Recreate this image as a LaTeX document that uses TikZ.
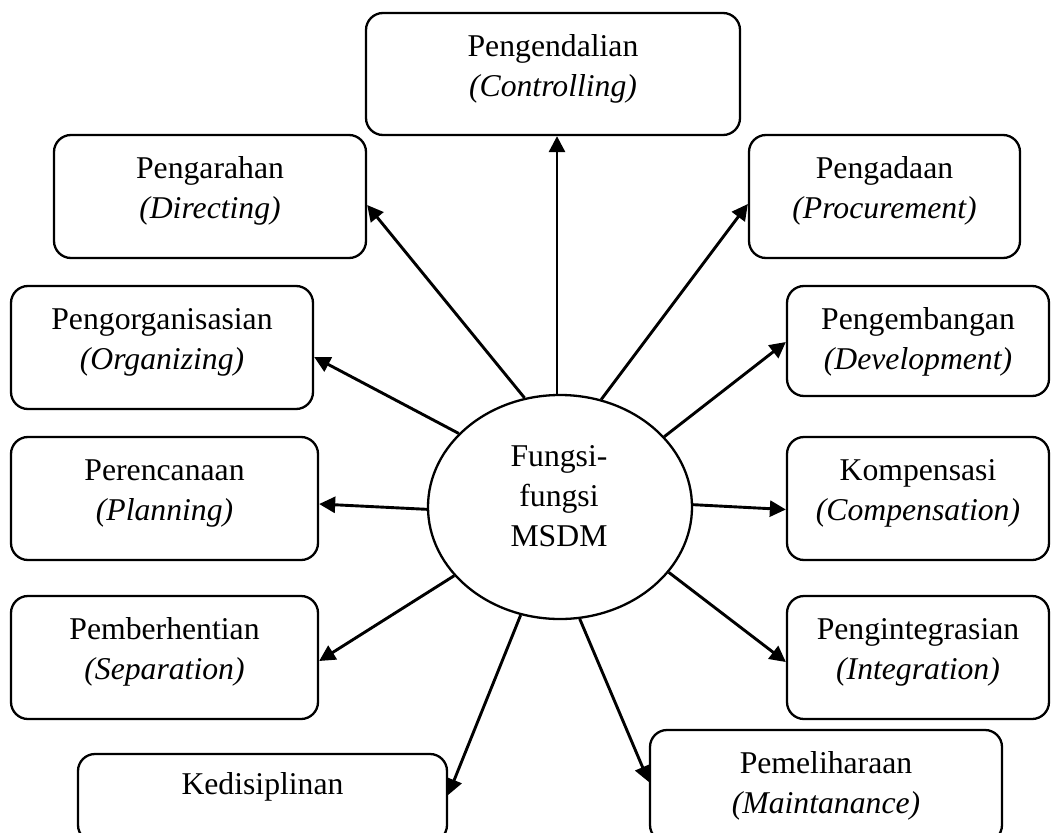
\documentclass[tikz,border=0pt]{standalone}
\usepackage{fontspec}
\setmainfont{Liberation Serif}
\usetikzlibrary{shapes.geometric,arrows.meta}
\tikzset{
  fbox/.style={draw, line width=2.3pt, rounded corners=17pt, inner sep=0pt, fill=white},
  ftext/.style={anchor=north, inner sep=0pt, align=center, font=\fontsize{31.7}{40}\selectfont},
  centre/.style={draw, ellipse, line width=2.3pt, inner sep=0pt, minimum width=264pt, minimum height=224pt},
  arr/.style={line width=2.9pt, -{Triangle[length=16pt,width=16pt]}}
}
\newcommand{\fst}{\rule{0pt}{26pt}}
\begin{document}
\begin{tikzpicture}[x=1pt,y=-1pt]
\useasboundingbox (0,0) rectangle (1054,832);
\fill[white] (0,0) rectangle (1054,832);
\clip (0,0) rectangle (1054,832);

% boxes
\node[fbox, minimum width=374pt, minimum height=122pt] (ctrl) at (553,74) {};
\node[fbox, minimum width=312pt, minimum height=123pt] (dir) at (210,196.5) {};
\node[fbox, minimum width=271pt, minimum height=123pt] (proc) at (884.5,196.5) {};
\node[fbox, minimum width=302pt, minimum height=123pt] (org) at (162,347.5) {};
\node[fbox, minimum width=262pt, minimum height=110pt] (dev) at (918,341) {};
\node[fbox, minimum width=307pt, minimum height=123pt] (plan) at (164.5,498.5) {};
\node[fbox, minimum width=262pt, minimum height=123pt] (comp) at (918,498.5) {};
\node[fbox, minimum width=307pt, minimum height=123pt] (sep) at (164.5,657.5) {};
\node[fbox, minimum width=262pt, minimum height=123pt] (integ) at (918,657.5) {};
\node[fbox, minimum width=369pt, minimum height=88pt] (disc) at (262.5,798) {};
\node[fbox, minimum width=352pt, minimum height=112pt] (maint) at (826,786) {};

% texts
\node[ftext] (ctrl-t) at ([yshift=-18pt]ctrl.north) {\fst Pengendalian\\\textit{(Controlling)}};
\node[ftext] (dir-t) at ([yshift=-18pt]dir.north) {\fst Pengarahan\\\textit{(Directing)}};
\node[ftext] (proc-t) at ([yshift=-18pt]proc.north) {\fst Pengadaan\\\textit{(Procurement)}};
\node[ftext] (org-t) at ([yshift=-18pt]org.north) {\fst Pengorganisasian\\\textit{(Organizing)}};
\node[ftext] (dev-t) at ([yshift=-18pt]dev.north) {\fst Pengembangan\\\textit{(Development)}};
\node[ftext] (plan-t) at ([yshift=-18pt]plan.north) {\fst Perencanaan\\\textit{(Planning)}};
\node[ftext] (comp-t) at ([yshift=-18pt]comp.north) {\fst Kompensasi\\\textit{(Compensation)}};
\node[ftext] (sep-t) at ([yshift=-18pt]sep.north) {\fst Pemberhentian\\\textit{(Separation)}};
\node[ftext] (integ-t) at ([yshift=-18pt]integ.north) {\fst Pengintegrasian\\\textit{(Integration)}};
\node[ftext] (disc-t) at ([yshift=-15pt]disc.north) {\fst Kedisiplinan};
\node[ftext] (maint-t) at ([yshift=-18pt]maint.north) {\fst Pemeliharaan\\\textit{(Maintanance)}};

% centre
\node[centre] (c) at (560,507) {};
\node[ftext] (c-t) at (559,440) {\fst Fungsi-\\fungsi\\MSDM};

% arrows
\draw[arr] ([xshift=-3pt]c.north) -- ([xshift=4pt]ctrl.south);
\draw[arr] (c.108) -- ([yshift=-8.5pt]dir.east);
\draw[arr] (c.69.5) -- ([yshift=-7.5pt]proc.west);
\draw[arr] (c.144.7) -- ([yshift=-9.5pt]org.east);
\draw[arr] (c.34.7) -- ([yshift=-1pt]dev.west);
\draw[arr] (c.181) -- ([yshift=-5.5pt]plan.east);
\draw[arr] (c.1.3) -- ([yshift=-11pt]comp.west);
\draw[arr] (c.213.4) -- ([yshift=-3.5pt]sep.east);
\draw[arr] (c.329) -- ([yshift=-4.5pt]integ.west);
\draw[arr] (c.250) -- ([yshift=3pt]disc.east);
\draw[arr] (c.280) -- ([yshift=4pt]maint.west);
\end{tikzpicture}
\end{document}
